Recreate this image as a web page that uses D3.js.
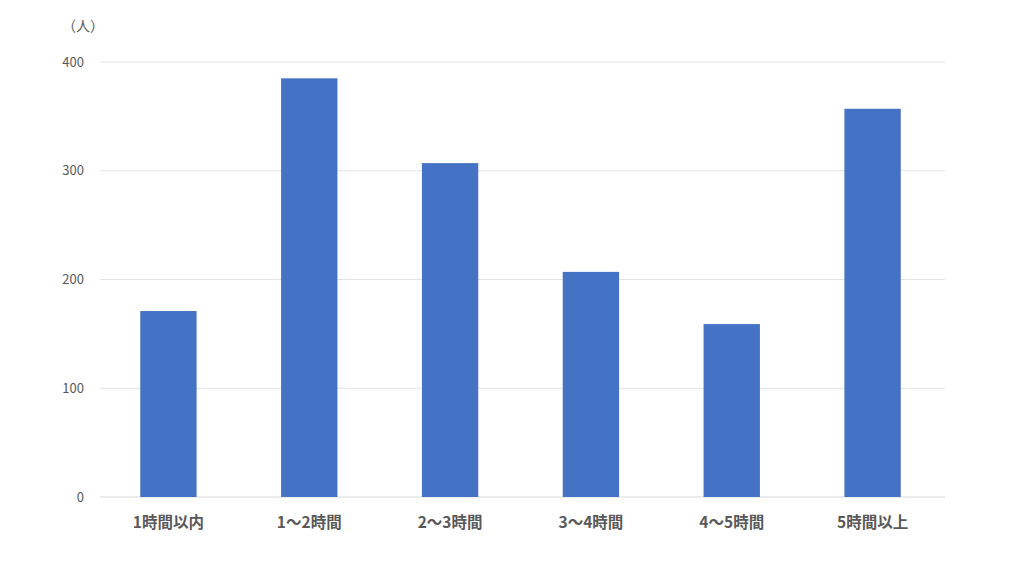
<!DOCTYPE html>
<html><head><meta charset="utf-8">
<script src="https://cdn.jsdelivr.net/npm/d3@7"></script>
<style>
body{margin:0;background:#fff;}
svg{display:block;font-family:"Noto Sans CJK JP","Noto Sans",sans-serif;}
</style></head>
<body><svg id="c" width="1024" height="576"></svg>
<script>
const categories = ["1時間以内","1～2時間","2～3時間","3～4時間","4～5時間","5時間以上"];
const values = [171, 385, 307, 207, 159, 357];
const yTicks = [0,100,200,300,400];
const unitLabel = "（人）";

(function(){
const svg = d3.select("#c");
const mL = 100, mR = 945, mT = 62, mB = 497;
const x = d3.scaleBand().domain(categories).range([mL-2, mR-2]).paddingInner(0.6).paddingOuter(0.3);
const y = d3.scaleLinear().domain([0,400]).range([mB, mT]);

svg.append("g").selectAll("line").data(yTicks).join("line")
  .attr("x1", mL).attr("x2", mR)
  .attr("y1", d=>y(d)).attr("y2", d=>y(d))
  .attr("stroke", d=>d===0?"#d9d9d9":"#e3e3e3").attr("stroke-width",1);

svg.append("g").selectAll("text").data(yTicks).join("text")
  .attr("x", 84).attr("y", d=>y(d)).attr("dy","0.35em")
  .attr("text-anchor","end").attr("font-size",13).attr("fill","#595959")
  .text(d=>d);

svg.append("text").attr("x",62).attr("y",31).attr("font-size",14).attr("fill","#595959").text(unitLabel);

svg.append("g").selectAll("rect").data(values).join("rect")
  .attr("x",(d,i)=>x(categories[i])).attr("width",x.bandwidth())
  .attr("y",d=>y(d)).attr("height",d=>y(0)-y(d))
  .attr("fill","#4472c4");

svg.append("g").selectAll("text").data(categories).join("text")
  .attr("x",d=>x(d)+x.bandwidth()/2).attr("y",528)
  .attr("text-anchor","middle").attr("font-size",15.5).attr("font-weight","bold").attr("fill","#595959")
  .text(d=>d);
})();
</script></body></html>
